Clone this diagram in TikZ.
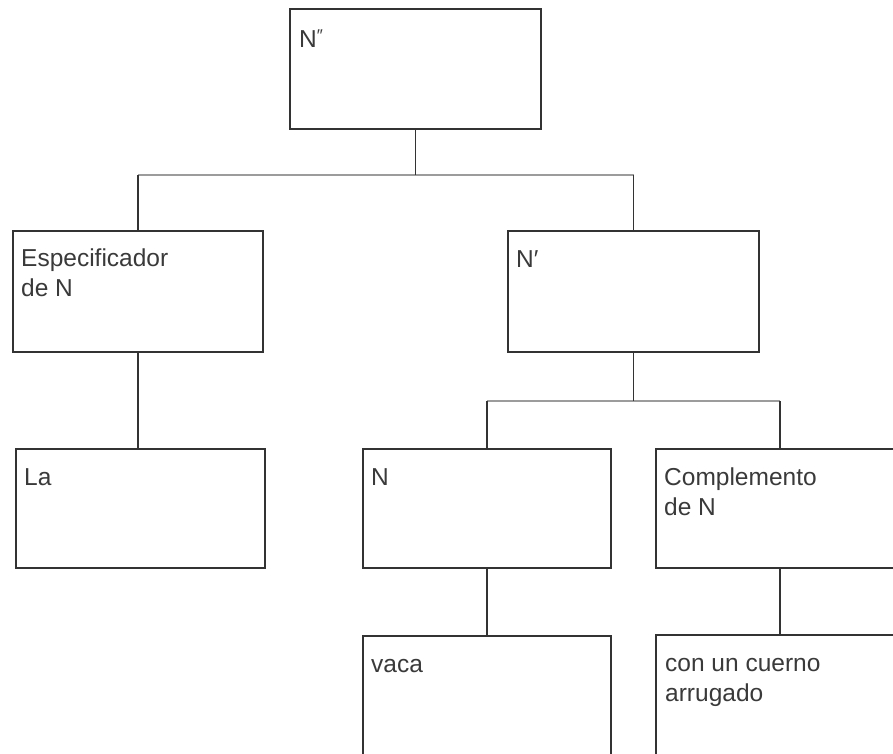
\documentclass[tikz,border=0pt]{standalone}
\usepackage{fontspec}
\setmainfont{Liberation Sans}
\definecolor{ink}{HTML}{333333}
\definecolor{txt}{HTML}{3A3A3A}
\definecolor{hl}{HTML}{9C9C9C}
\begin{document}
\begin{tikzpicture}[x=1pt,y=-1pt,
  box/.style={draw=ink, line width=1.8pt, fill=white, inner sep=0pt, outer sep=0pt},
  lab/.style={anchor=base west, align=left, inner sep=0pt, text=txt,
    font=\fontsize{24.5}{30}\selectfont},
  vline/.style={draw=ink, line width=1.6pt},
  hline/.style={draw=hl, line width=2.6pt}]
\useasboundingbox (0,0) rectangle (893,753);
\clip (0,0) rectangle (893,753);
% boxes
\node[box, minimum width=251, minimum height=120] (A) at (415.5,69) {};
\node[box, minimum width=250, minimum height=121] (B) at (138,291.5) {};
\node[box, minimum width=251, minimum height=121] (C) at (633.5,291.5) {};
\node[box, minimum width=249, minimum height=119] (D) at (140.5,508.5) {};
\node[box, minimum width=248, minimum height=119] (E) at (487,508.5) {};
\node[box, minimum width=248, minimum height=119] (F) at (780,508.5) {};
\node[box, minimum width=248, minimum height=120] (G) at (487,696) {};
\node[box, minimum width=248, minimum height=120] (H) at (780,695) {};
% labels (base anchor of a two-line node is the second line's baseline)
\node[lab] (tA) at ([xshift=9pt,yshift=-38pt]A.north west) {N\raisebox{5.5pt}{\fontsize{17}{17}\selectfont″}};
\node[lab] (tB) at ([xshift=8pt,yshift=-65pt]B.north west) {Especificador\\de N};
\node[lab] (tC) at ([xshift=8pt,yshift=-36pt]C.north west) {N′};
\node[lab] (tD) at ([xshift=8pt,yshift=-36pt]D.north west) {La};
\node[lab] (tE) at ([xshift=8pt,yshift=-36pt]E.north west) {N};
\node[lab] (tF) at ([xshift=8pt,yshift=-66pt]F.north west) {Complemento\\de N};
\node[lab] (tG) at ([xshift=8pt,yshift=-36pt]G.north west) {vaca};
\node[lab] (tH) at ([xshift=9pt,yshift=-66pt]H.north west) {con un cuerno\\arrugado};
% connectors
\coordinate (j1) at (A.south |- 0,175);
\coordinate (j2) at (C.south |- 0,401);
\draw[hline] (B.north |- j1) -- (C.north |- j1);
\draw[hline] (E.north |- j2) -- (F.north |- j2);
\draw[vline] (A.south) -- (j1);
\draw[vline] (B.north) -- (B.north |- j1);
\draw[vline] (C.north) -- (C.north |- j1);
\draw[vline] (C.south) -- (j2);
\draw[vline] (E.north) -- (E.north |- j2);
\draw[vline] (F.north) -- (F.north |- j2);
\draw[vline] (B.south) -- (B.south |- D.north);
\draw[vline] (E.south) -- (G.north);
\draw[vline] (F.south) -- (H.north);
\end{tikzpicture}
\end{document}
